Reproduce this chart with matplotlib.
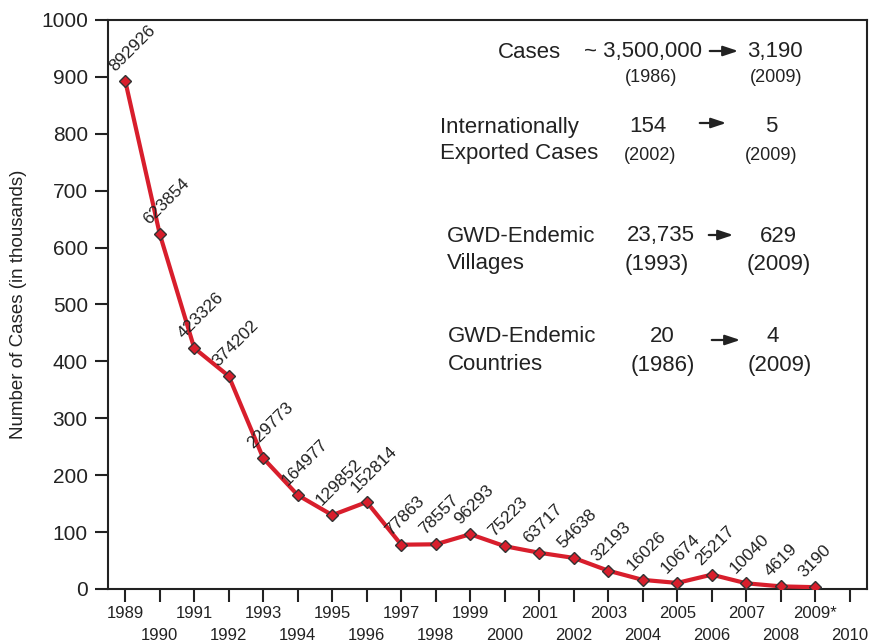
import matplotlib
matplotlib.use("Agg")
import matplotlib.pyplot as plt

plt.rcParams['font.family'] = ['Liberation Sans', 'DejaVu Sans']

years = list(range(1989, 2010))
cases = [892926, 623854, 423326, 374202, 229773, 164977, 129852, 152814,
         77863, 78557, 96293, 75223, 63717, 54638, 32193, 16026, 10674,
         25217, 10040, 4619, 3190]
odd_ticks = list(range(1989, 2011, 2))
even_ticks = list(range(1990, 2011, 2))
odd_labels = [str(y) if y != 2009 else "2009*" for y in odd_ticks]
even_labels = [str(y) for y in even_ticks]
y_ticks = list(range(0, 1001, 100))

W, H = 870, 642
fig = plt.figure(figsize=(W / 100, H / 100), dpi=100)
ax = fig.add_axes([108 / W, 1 - 589 / H, (867 - 108) / W, (589 - 20) / H])

red = '#d81e2c'
ink = '#222222'
vals = [c / 1000 for c in cases]
ax.plot(years, vals, color=red, lw=3, marker='D', ms=6.5,
        markerfacecolor=red, markeredgecolor='#333333', markeredgewidth=1.0,
        zorder=3, solid_joinstyle='round')

for x, v, c in zip(years, vals, cases):
    ax.annotate(str(c), (x, v), xytext=(-6, 5), textcoords='offset points',
                rotation=45, rotation_mode='anchor', ha='left', va='bottom',
                fontsize=12.5, color=ink, zorder=4)

ax.set_xlim(1988.5, 2010.5)
ax.set_ylim(0, 1000)
ax.set_yticks(y_ticks)
ax.set_xticks(odd_ticks)
ax.set_xticklabels(odd_labels)
ax.set_xticks(even_ticks, minor=True)
ax.set_xticklabels(even_labels, minor=True)

for s in ax.spines.values():
    s.set_linewidth(1.5)
    s.set_color(ink)

ax.tick_params(axis='y', direction='out', length=9.5, width=1.5, color=ink,
               labelsize=15, labelcolor=ink, pad=5)
ax.tick_params(axis='x', which='major', direction='out', length=9, width=1.5,
               color=ink, labelsize=12, labelcolor=ink, pad=3)
ax.tick_params(axis='x', which='minor', direction='out', length=9, width=1.5,
               color=ink, labelsize=12, labelcolor=ink, pad=19)

ax.set_ylabel('Number of Cases (in thousands)', fontsize=13.5, color=ink,
              labelpad=10)


def ftext(px, py, s, size, ha='center'):
    fig.text(px / W, 1 - py / H, s, fontsize=size, ha=ha, va='center',
             color=ink)


def farrow(x0, x1, py):
    fig.patches.append(matplotlib.patches.FancyArrowPatch(
        (x0 / W, 1 - py / H), (x1 / W, 1 - py / H), transform=fig.transFigure,
        arrowstyle='-|>,head_length=0.9,head_width=0.3', lw=1.6,
        color=ink, mutation_scale=10))


# Row 1: Cases
ftext(529, 52, 'Cases', 16)
ftext(643, 52, '~ 3,500,000', 16)
farrow(707, 741, 51)
ftext(775, 52, '3,190', 16)
ftext(651, 78, '(1986)', 13)
ftext(776, 78, '(2009)', 13)

# Row 2: exported cases
ftext(440, 127, 'Internationally', 16, ha='left')
ftext(440, 154, 'Exported Cases', 16, ha='left')
ftext(648, 127, '154', 16)
farrow(697, 729, 123)
ftext(771, 127, '5', 16)
ftext(650, 155, '(2002)', 13)
ftext(771, 155, '(2009)', 13)

# Row 3: villages
ftext(447, 236, 'GWD-Endemic', 16, ha='left')
ftext(447, 263, 'Villages', 16, ha='left')
ftext(661, 236, '23,735', 16)
farrow(706, 736, 235)
ftext(778, 236, '629', 16)
ftext(657, 264, '(1993)', 16)
ftext(779, 264, '(2009)', 16)

# Row 4: countries
ftext(448, 337, 'GWD-Endemic', 16, ha='left')
ftext(448, 365, 'Countries', 16, ha='left')
ftext(662, 337, '20', 16)
farrow(709, 743, 340)
ftext(773, 337, '4', 16)
ftext(663, 366, '(1986)', 16)
ftext(780, 366, '(2009)', 16)

fig.savefig('out.png', dpi=100, facecolor='white')
